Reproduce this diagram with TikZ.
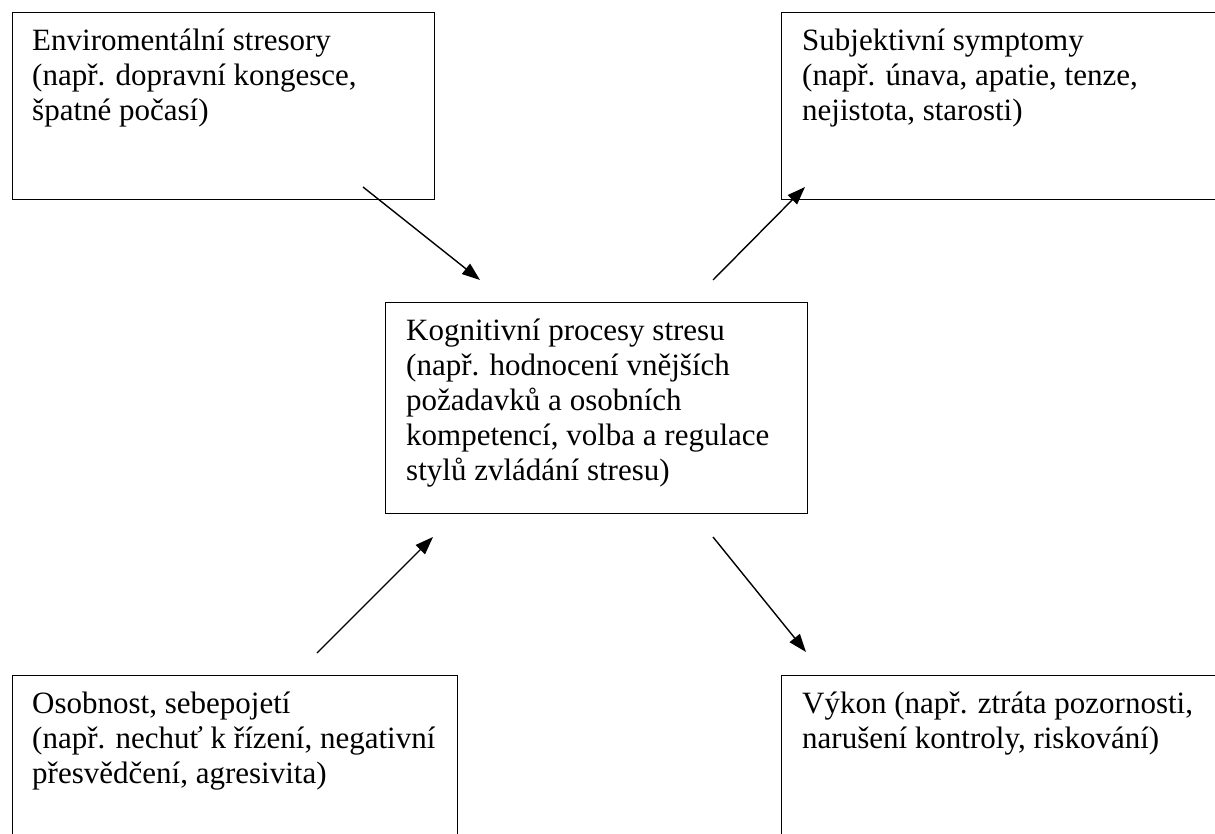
\documentclass[tikz,border=0pt]{standalone}
\usepackage{fontspec}
\setmainfont{Liberation Serif}
\usetikzlibrary{arrows.meta}
\tikzset{
  box/.style={draw=black, line width=1.3pt, rectangle, inner sep=0pt, anchor=north west},
  txt/.style={inner sep=0pt, anchor=north west, align=left, font=\fontsize{31}{35}\selectfont},
  arr/.style={line width=1.4pt, -{Triangle[length=18pt,width=13pt]}}
}
\newcommand{\fl}{\rule{0pt}{24pt}}
\begin{document}
\begin{tikzpicture}[x=1pt,y=-1pt]
\useasboundingbox (0,0) rectangle (1215,834);
% boxes
\node[box, minimum width=422pt, minimum height=187pt] (env) at (12,12) {};
\node[box, minimum width=470pt, minimum height=187pt] (sub) at (781,12) {};
\node[box, minimum width=422pt, minimum height=211pt] (kog) at (385,302) {};
\node[box, minimum width=445pt, minimum height=200pt] (oso) at (12,675) {};
\node[box, minimum width=470pt, minimum height=200pt] (vyk) at (781,675) {};
% texts
\node[txt] (envt) at (32,26) {\fl Enviromentální stresory\\(např. dopravní kongesce,\\špatné počasí)};
\node[txt] (subt) at (802,26) {\fl Subjektivní symptomy\\(např. únava, apatie, tenze,\\nejistota, starosti)};
\node[txt] (kogt) at (406,316) {\fl Kognitivní procesy stresu\\(např. hodnocení vnějších\\požadavků a osobních\\kompetencí, volba a regulace\\stylů zvládání stresu)};
\node[txt] (osot) at (32,689) {\fl Osobnost, sebepojetí\\(např. nechuť k řízení, negativní\\přesvědčení, agresivita)};
\node[txt] (vykt) at (802,689) {\fl Výkon (např. ztráta pozornosti,\\narušení kontroly, riskování)};
% arrow end points
\coordinate (a1s) at (363,187);
\coordinate (a1e) at (480,280);
\coordinate (a2s) at (713,280);
\coordinate (a2e) at (805,187);
\coordinate (a3s) at (317,653);
\coordinate (a3e) at (433,537);
\coordinate (a4s) at (713,537);
\coordinate (a4e) at (806,652);
\draw[arr] (a1s) -- (a1e);
\draw[arr] (a2s) -- (a2e);
\draw[arr] (a3s) -- (a3e);
\draw[arr] (a4s) -- (a4e);
\end{tikzpicture}
\end{document}
